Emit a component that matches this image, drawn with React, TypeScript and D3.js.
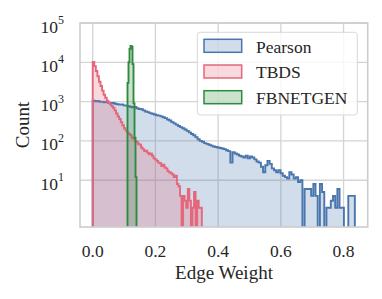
import React from "react";
import * as d3 from "d3";

// histogram counts per bin
const pearsonCounts = [
  1060, 1020, 1040, 990, 1000, 960, 980, 930, 910, 920,
  880, 860, 840, 850, 800, 790, 760, 740, 720, 730,
  680, 650, 640, 600, 560, 540, 510, 490, 470, 450,
  440, 420, 400, 380, 350, 330, 300, 280, 260, 240,
  225, 210, 195, 180, 165, 150, 140, 125, 110, 100,
  95, 88, 84, 80, 76, 72, 70, 68, 66, 64,
  62, 58, 55, 28, 52, 48, 45, 42, 40, 38,
  42, 36, 40, 38, 34, 30, 28, 22, 16, 24,
  31, 26, 20, 18, 16, 18, 15, 13, 12, 11,
  16, 14, 11, 12, 9, 10, 0, 6, 6, 6,
  4, 8, 4, 0, 8, 5, 0, 2, 2, 3,
  4, 2, 6, 2, 2, 0, 0, 4, 4, 4,
];
const tbdsCounts = [
  10200, 8000, 6000, 4400, 3200, 2500, 1900, 1500, 1250, 1050,
  950, 850, 760, 700, 600, 500, 420, 360, 300, 250,
  210, 185, 165, 150, 140, 120, 115, 100, 95, 85,
  80, 68, 62, 55, 56, 50, 46, 48, 42, 36,
  34, 31, 28, 27, 23, 25, 21, 20, 17, 16,
  15, 14, 12, 13, 8, 7, 4, 0, 4, 3,
  2, 6, 3, 0, 2, 5, 0, 3, 2, 2,
];
const fbnetgenCounts = [3000, 10000, 22000, 26000, 25000, 9000, 900, 120, 12];

const pearsonRange = [0, 0.836];
const tbdsRange = [0, 0.348];
const fbnetgenRange = [0.111, 0.1397];

const seriesNames = ["Pearson", "TBDS", "FBNETGEN"];
const seriesColors = ["#4a76ae", "#e5677c", "#2e8b3e"];

const xTicks = [0, 0.2, 0.4, 0.6, 0.8];
const yExponents = [1, 2, 3, 4, 5];

const W = 382;
const H = 299;
const left = 80, right = 367.7, top = 23, bottom = 227;
const font = "Liberation Serif, Times New Roman, serif";

const x = d3.scaleLinear().domain([-0.0405, 0.877]).range([left, right]);
const y = d3.scaleLog().domain([Math.pow(10, -0.19), 1e5]).range([bottom, top]);

function stepPoints(counts: number[], range: number[]) {
  const w = (range[1] - range[0]) / counts.length;
  const pts: [number, number][] = [[x(range[0]), bottom + 2]];
  counts.forEach((c, i) => {
    const yv = c > 0 ? y(c) : bottom + 2;
    pts.push([x(range[0] + i * w), yv]);
    pts.push([x(range[0] + (i + 1) * w), yv]);
  });
  pts.push([x(range[1]), bottom + 2]);
  return pts;
}

const series = [
  { name: seriesNames[0], color: seriesColors[0], pts: stepPoints(pearsonCounts, pearsonRange) },
  { name: seriesNames[1], color: seriesColors[1], pts: stepPoints(tbdsCounts, tbdsRange) },
  { name: seriesNames[2], color: seriesColors[2], pts: stepPoints(fbnetgenCounts, fbnetgenRange) },
];

const line = d3.line();

export default function App() {
  return (
    <svg width={W} height={H} style={{ position: "absolute", left: 0, top: 0, background: "#fff", fontFamily: font }}>
      <defs>
        <clipPath id="plot">
          <rect x={left} y={top} width={right - left} height={bottom - top} />
        </clipPath>
      </defs>
      <rect x={0} y={0} width={W} height={H} fill="#fff" />
      {/* grid */}
      <g stroke="#d4d4d4" strokeWidth={1.3}>
        {xTicks.map((t) => (
          <line key={t} x1={x(t)} x2={x(t)} y1={top} y2={bottom} />
        ))}
        {yExponents.map((e) => (
          <line key={e} x1={left} x2={right} y1={y(Math.pow(10, e))} y2={y(Math.pow(10, e))} />
        ))}
      </g>
      {/* histograms */}
      <g clipPath="url(#plot)">
        {series.map((s) => (
          <g key={s.name}>
            <path d={line(s.pts) + "Z"} fill={s.color} fillOpacity={0.25} stroke="none" />
            <path d={line(s.pts) as string} fill="none" stroke={s.color} strokeWidth={1.9} strokeLinejoin="miter" />
          </g>
        ))}
      </g>
      {/* frame */}
      <rect x={left} y={top} width={right - left} height={bottom - top} fill="none" stroke="#cccccc" strokeWidth={1.6} />
      {/* x tick labels */}
      <g fontSize={17.5} fill="#262626" textAnchor="middle">
        {xTicks.map((t) => (
          <text key={t} x={x(t)} y={256.5} style={{ fontFamily: font }}>{t.toFixed(1)}</text>
        ))}
      </g>
      {/* y tick labels */}
      <g fill="#262626" textAnchor="end">
        {yExponents.map((e) => (
          <text key={e} x={64} y={y(Math.pow(10, e)) + 9.5} fontSize={17.5} style={{ fontFamily: font }}>
            10<tspan dy={-8.5} fontSize={12}>{e}</tspan>
          </text>
        ))}
      </g>
      {/* axis labels */}
      <text x={224} y={278.5} fontSize={19} fill="#262626" textAnchor="middle" style={{ fontFamily: font }}>Edge Weight</text>
      <text transform={`translate(29,${(top + bottom) / 2}) rotate(-90)`} fontSize={19} fill="#262626" textAnchor="middle" style={{ fontFamily: font }}>Count</text>
      {/* legend */}
      <g>
        <rect x={197.3} y={32.3} width={160} height={82.7} rx={3} fill="#fff" fillOpacity={0.8} stroke="#d8d8d8" strokeWidth={1} />
        {series.map((s, i) => (
          <g key={s.name}>
            <rect x={204} y={39.3 + i * 25.7} width={37.7} height={13} fill={s.color} fillOpacity={0.25} stroke={s.color} strokeWidth={1.5} />
            <text x={256} y={52.5 + i * 25.7} fontSize={17.5} fill="#262626" style={{ fontFamily: font }}>{s.name}</text>
          </g>
        ))}
      </g>
    </svg>
  );
}
